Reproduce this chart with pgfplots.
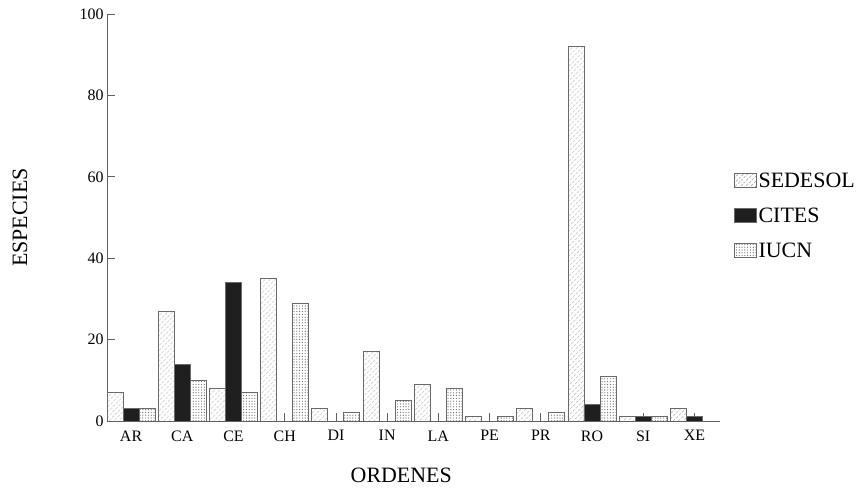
\documentclass[border=0pt]{standalone}
\usepackage{fontspec}
\setmainfont{Liberation Serif}
\usepackage{pgfplots}
\pgfplotsset{compat=1.18}
\usetikzlibrary{patterns.meta}

\definecolor{edge}{HTML}{6A6A6A}
\definecolor{axisgray}{HTML}{606060}
\definecolor{hatch}{HTML}{666666}

\begin{document}
\begin{tikzpicture}
\useasboundingbox (0,0) rectangle (865bp,488bp);
\begin{axis}[
    at={(107bp,67bp)}, anchor=south west,
    scale only axis,
    width=613bp, height=407bp,
    xmin=-0.47, xmax=11.5,
    ymin=0, ymax=100,
    axis x line=bottom, axis y line=left,
    axis line style={axisgray, line width=0.8pt, -},
    ybar, bar width=16bp,
    xtick={0,...,11},
    xticklabels={AR,CA,CE,CH,DI,IN,LA,PE,PR,RO,SI,XE},
    ytick={0,20,40,60,80,100},
    tick align=inside,
    major tick length=8bp,
    tick style={axisgray, line width=0.8pt},
    /pgf/number format/assume math mode=true,
    tick label style={font=\fontsize{16}{18}\selectfont},
    xticklabel style={yshift=-6bp},
    xlabel={ORDENES},
    ylabel={ESPECIES},
    label style={font=\fontsize{22}{24}\selectfont},
    xlabel style={at={(axis description cs:0.48,-0.133)}, anchor=center},
    ylabel style={at={(axis description cs:-0.142,0.5)}, anchor=center},
    legend style={at={(axis description cs:1.022,0.615)}, anchor=north west,
        draw=none, fill=none, font=\fontsize{22}{24}\selectfont,
        row sep=15bp, inner sep=0pt},
    legend cell align=left,
    legend image code/.code={\draw[#1, draw=edge] (0bp,-7bp) rectangle (22bp,7bp);},
]
% SEDESOL
\addplot+[bar shift=-16bp, draw=edge, line width=0.9pt,
    pattern={Lines[angle=45, distance=3.6bp, line width=0.55pt]}, pattern color=hatch]
coordinates {
(0,7) (1,27) (2,8) (3,35) (4,3) (5,17) (6,9) (7,1) (8,3) (9,92) (10,1) (11,3)
};
\addlegendentry{SEDESOL}
% CITES
\addplot+[bar shift=0bp, draw=edge, line width=0.9pt, fill=black!88]
coordinates {
(0,3) (1,14) (2,34) (3,0) (4,0) (5,0) (6,0) (7,0) (8,0) (9,4) (10,1) (11,1)
};
\addlegendentry{CITES}
% IUCN
\addplot+[bar shift=16bp, draw=edge, line width=0.9pt,
    pattern={Dots[distance=2.8bp, radius=0.6bp]}, pattern color=hatch]
coordinates {
(0,3) (1,10) (2,7) (3,29) (4,2) (5,5) (6,8) (7,1) (8,2) (9,11) (10,1) (11,0)
};
\addlegendentry{IUCN}
\end{axis}
\end{tikzpicture}
\end{document}
